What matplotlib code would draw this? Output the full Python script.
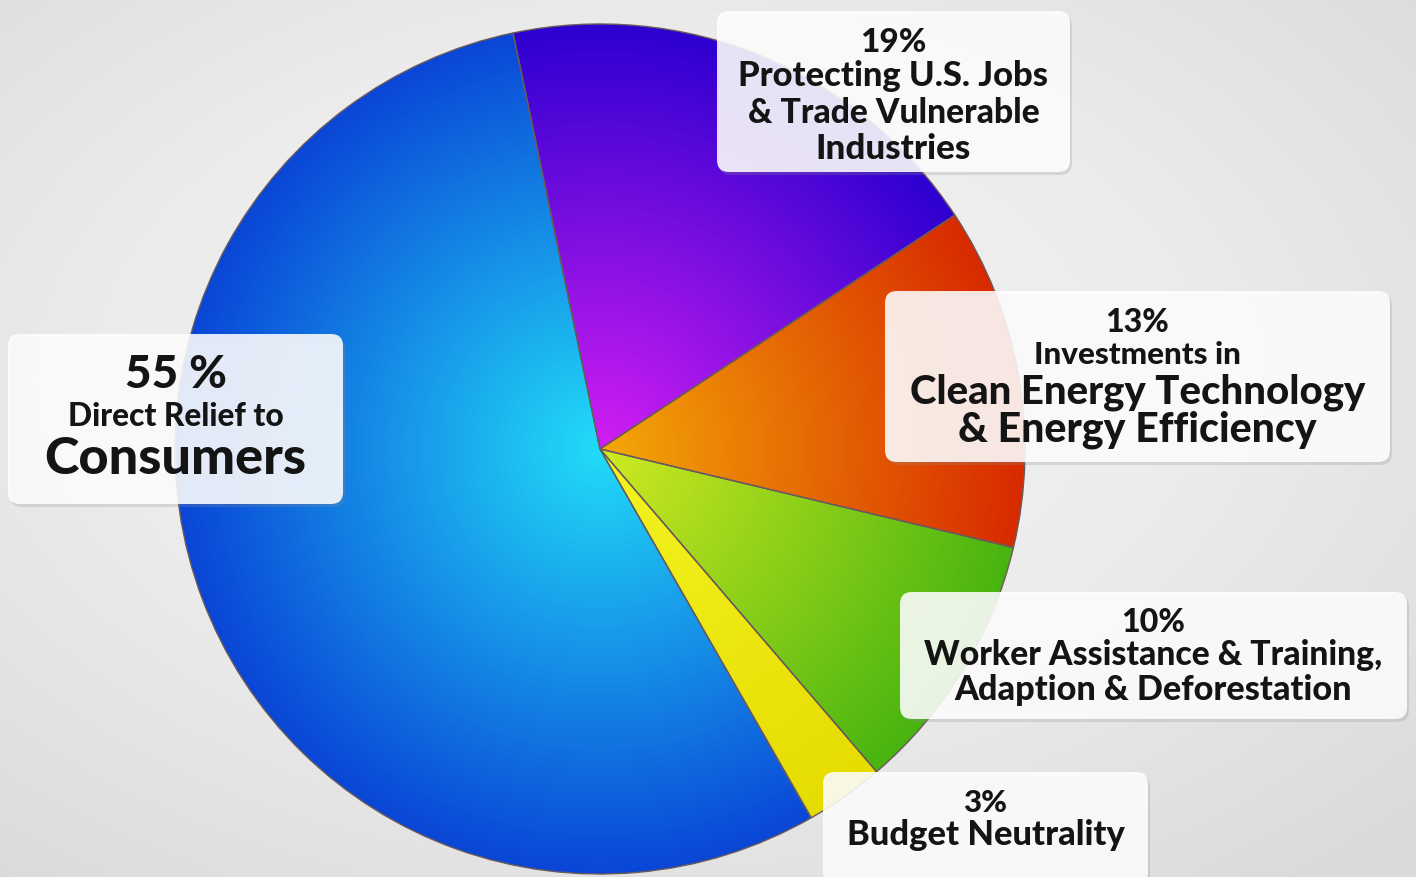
import numpy as np
import matplotlib
matplotlib.use('Agg')
import matplotlib.pyplot as plt
from matplotlib.colors import LinearSegmentedColormap
from matplotlib.patches import FancyBboxPatch

W, H = 1416, 878

# data
shares = [19, 13, 10, 3, 55]
center_colors = ['#d21ef2', '#f4a808', '#d0ea22', '#f4f422', '#22dcf8']
edge_colors = ['#2c00d0', '#d82a00', '#48b410', '#e6dc00', '#0a46d6']

labels = [
    ['19%', 'Protecting U.S. Jobs', '& Trade Vulnerable', 'Industries'],
    ['13%', 'Investments in', 'Clean Energy Technology', '& Energy Efficiency'],
    ['10%', 'Worker Assistance & Training,', 'Adaption & Deforestation'],
    ['3%', 'Budget Neutrality'],
    ['55 %', 'Direct Relief to', 'Consumers'],
]

# layout in pixels (y measured from top of the image)
boxes = [(717, 12, 1070, 173), (885, 292, 1390, 463), (900, 593, 1407, 720),
         (823, 773, 1148, 885), (8, 335, 343, 505)]
line_y = [[42, 76, 113, 149], [322, 355, 392, 430], [622, 655, 690], [803, 835],
          [375, 417, 460]]
line_w = [[66, 310, 292, 156], [64, 208, 456, 358], [64, 460, 398], [44, 278],
          [102, 216, 263]]

cx, cy, R = 600, H - 450, 425

fig = plt.figure(figsize=(W / 100, H / 100), dpi=100)
ax = fig.add_axes([0, 0, 1, 1])

# background
yy, xx = np.mgrid[0:H, 0:W]
bg = np.hypot((xx - 650) / W, (yy - 500) / H)
bg_cmap = LinearSegmentedColormap.from_list('bg', ['#f3f3f3', '#ececec', '#dadada'])
ax.imshow(bg, extent=(0, W, 0, H), origin='lower', cmap=bg_cmap, vmin=0, vmax=0.75,
          zorder=0, interpolation='bilinear')

wedges, _ = ax.pie(shares, startangle=101.8, counterclock=False, center=(cx, cy),
                   radius=R, wedgeprops=dict(facecolor='none', edgecolor='#6a5a5a',
                                             linewidth=1.0))

r = np.hypot(xx - cx, yy - cy) / R
for w, c0, c1 in zip(wedges, center_colors, edge_colors):
    cm = LinearSegmentedColormap.from_list('g', [c0, c1])
    im = ax.imshow(r, extent=(0, W, 0, H), origin='lower', cmap=cm, vmin=0, vmax=1,
                   zorder=1, interpolation='bilinear')
    im.set_clip_path(w)
    w.set_zorder(2)

for (x0, y0, x1, y1) in boxes:
    sh = FancyBboxPatch((x0 + 2, H - y1 - 3), x1 - x0, y1 - y0,
                        boxstyle='round,pad=0,rounding_size=12',
                        facecolor='#909090', alpha=0.25, edgecolor='none', zorder=3)
    ax.add_patch(sh)
    b = FancyBboxPatch((x0, H - y1), x1 - x0, y1 - y0,
                       boxstyle='round,pad=0,rounding_size=12',
                       facecolor='white', alpha=0.87, edgecolor='none', zorder=4)
    ax.add_patch(b)

fig.canvas.draw()
renderer = fig.canvas.get_renderer()
for lines, ys, ws, (x0, y0, x1, y1) in zip(labels, line_y, line_w, boxes):
    xc = (x0 + x1) / 2
    for s, y, tw in zip(lines, ys, ws):
        t = ax.text(xc, H - y, s, ha='center', va='center', fontsize=20,
                    family=['Lato', 'DejaVu Sans'], weight='black', color='#141414',
                    zorder=5)
        wpx = t.get_window_extent(renderer).width
        t.set_fontsize(20 * tw / wpx)

ax.set_xlim(0, W)
ax.set_ylim(0, H)
ax.set_aspect('auto')
ax.axis('off')
fig.savefig('out.png', dpi=100)
